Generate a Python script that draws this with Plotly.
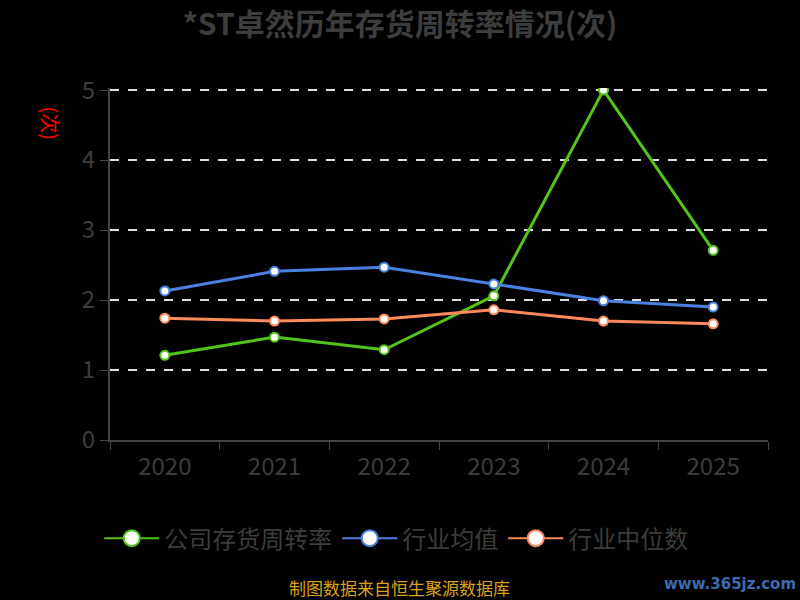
import plotly.graph_objects as go

# 年份
years = ["2020", "2021", "2022", "2023", "2024", "2025"]

# 存货周转率(次)
company = [1.21, 1.47, 1.29, 2.06, 5.00, 2.71]
industry_avg = [2.13, 2.41, 2.47, 2.23, 1.99, 1.90]
industry_median = [1.74, 1.70, 1.73, 1.86, 1.70, 1.66]

series = [
    ("公司存货周转率", company, "#52c41a"),
    ("行业均值", industry_avg, "#4a80e0"),
    ("行业中位数", industry_median, "#ff8a5c"),
]

fig = go.Figure()
for name, vals, color in series:
    fig.add_trace(go.Scatter(
        x=years, y=vals, name=name, mode="lines+markers", showlegend=False,
        line=dict(color=color, width=3),
        marker=dict(size=9, color="white", line=dict(color=color, width=2)),
    ))
# 图例用大圆点
for name, vals, color in series:
    fig.add_trace(go.Scatter(
        x=[None], y=[None], name=name, mode="lines+markers",
        line=dict(color=color, width=2),
        marker=dict(size=16, color="white", line=dict(color=color, width=2)),
    ))

txt = "#3c3c3c"
fig.update_layout(
    width=800, height=600,
    paper_bgcolor="black", plot_bgcolor="black",
    font=dict(family="Noto Sans CJK SC", color=txt),
    margin=dict(l=110, r=32, t=88, b=160),
    title=dict(text="<b>*ST卓然历年存货周转率情况(次)</b>", x=0.5, y=0.96,
               xanchor="center", yanchor="middle",
               font=dict(size=30, color="#3d3d3d")),
    showlegend=True,
    legend=dict(orientation="h", x=0.435, xanchor="center",
                y=-0.28, yanchor="middle",
                font=dict(size=24, color=txt), itemwidth=55),
    xaxis=dict(type="category", range=[-0.5, 5.5], showline=True, linecolor="#444",
               linewidth=2, ticks="outside", tickson="boundaries", tickcolor="#444",
               ticklen=8, ticklabelstandoff=4,
               showgrid=False, tickfont=dict(size=24, color=txt)),
    yaxis=dict(range=[0, 5.03], tickvals=[0, 1, 2, 3, 4, 5], showline=True,
               linecolor="#444", linewidth=2,
               ticks="outside", tickcolor="#444", ticklen=8,
               showgrid=True, gridcolor="#dddddd", griddash="dash", gridwidth=1.5,
               zeroline=False, tickfont=dict(size=24, color=txt)),
)

fig.add_annotation(text="(次)", xref="x domain", yref="y domain",
                   x=-0.09, y=0.9, xanchor="center", yanchor="middle",
                   showarrow=False, textangle=90,
                   font=dict(size=20, color="red"))

fig.add_annotation(text="制图数据来自恒生聚源数据库", xref="paper", yref="paper",
                   x=0.44, y=-0.42, xanchor="center", yanchor="middle", showarrow=False,
                   font=dict(size=17, color="#d9a21b"))
fig.add_annotation(text="<b>www.365jz.com</b>", xref="paper", yref="paper",
                   x=1.045, y=-0.41, xanchor="right", yanchor="middle", showarrow=False,
                   font=dict(size=15, color="#3b6cb0", family="DejaVu Sans"))

fig.write_html("out.html", config={"displayModeBar": False},
               post_script="document.body.style.margin='0';document.body.style.background='black';")
